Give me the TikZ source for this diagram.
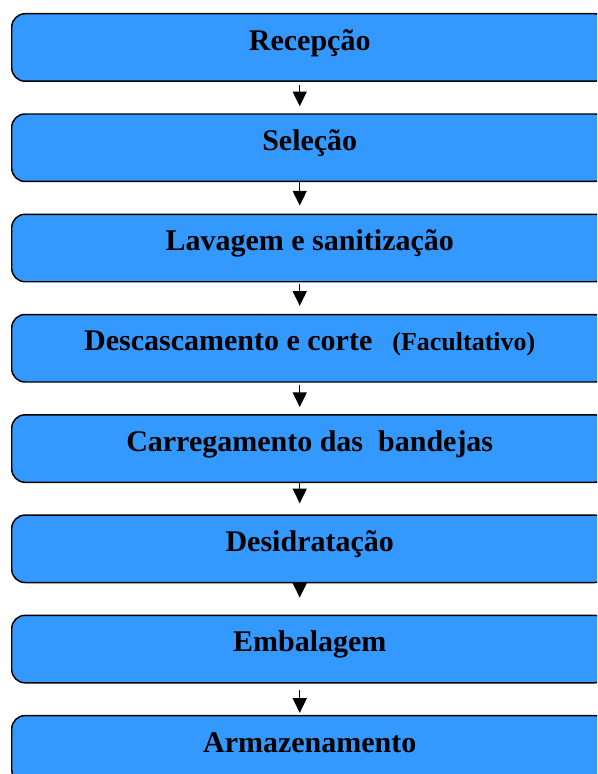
\documentclass[tikz,border=0pt]{standalone}
\usepackage{fontspec}
\setmainfont{Liberation Serif}
\usetikzlibrary{positioning,arrows.meta}
\definecolor{stageblue}{RGB}{51,153,255}
\tikzset{
  stage/.style={draw=black, line width=1.1pt, fill=stageblue, rounded corners=10pt,
    minimum width=447pt, minimum height=50.6pt, inner sep=0pt,
    text height=17pt, text depth=13pt, font=\fontsize{22.5}{27}\selectfont\bfseries},
  flow/.style={line width=0.9pt, -{Triangle[width=10.5pt,length=11pt]}}
}
\begin{document}
\begin{tikzpicture}[node distance=23.5pt]
    \useasboundingbox (0,0) rectangle (447.75pt,-580.5pt);
    \clip (0,0) rectangle (447.75pt,-580.5pt);
    % stages
    \node[stage, anchor=north west] (recepcao) at (8.25pt,-9.75pt) {Recepção};
    \node[stage, below=of recepcao] (selecao) {Seleção};
    \node[stage, below=of selecao] (lavagem) {Lavagem e sanitização};
    \node[stage, below=of lavagem] (descasca) {Descascamento e corte\hspace{15pt}{\fontsize{19.5}{23}\selectfont(Facultativo)}};
    \node[stage, below=of descasca] (bandejas) {Carregamento das\ \ bandejas};
    \node[stage, below=of bandejas] (desidrat) {Desidratação};
    \node[stage, below=of desidrat] (embal) {Embalagem};
    \node[stage, below=of embal] (armaz) {Armazenamento};
    % arrows
    \foreach \a/\b/\s/\t in {recepcao/selecao/2.25/5.25, selecao/lavagem/0/6,
        lavagem/descasca/1.5/6, descasca/bandejas/1.5/5.25, bandejas/desidrat/0/8.25,
        desidrat/embal/-4.5/12.75, embal/armaz/4.5/1.5}
        \draw[flow, shorten <=\s pt, shorten >=\t pt] ([xshift=-7.5pt]\a.south) -- ([xshift=-7.5pt]\b.north);
\end{tikzpicture}
\end{document}
